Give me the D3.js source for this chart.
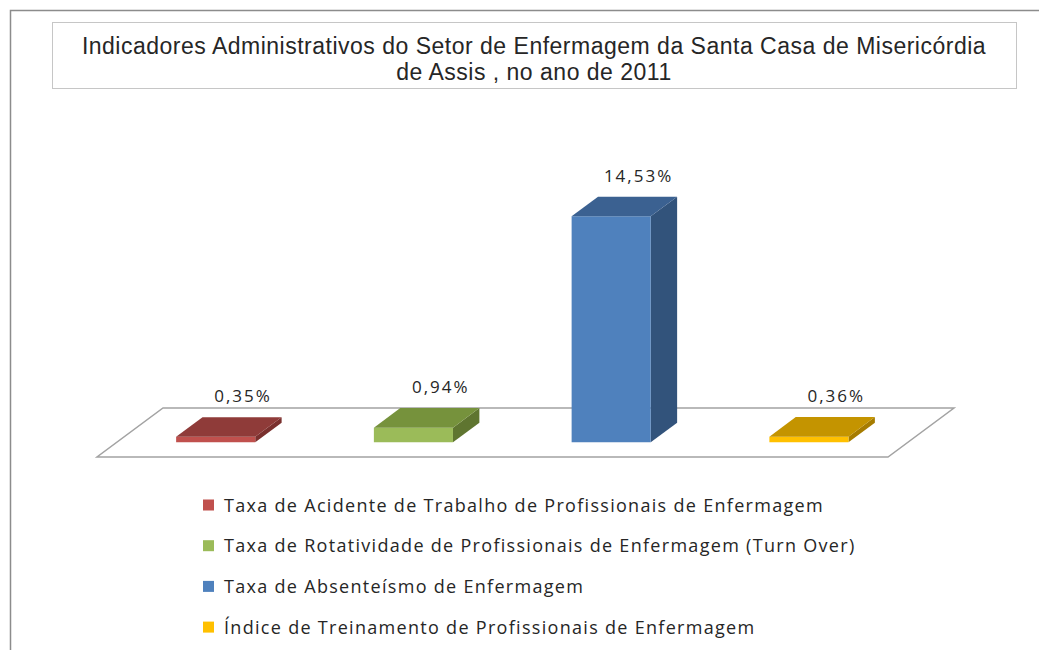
<!DOCTYPE html>
<html>
<head>
<meta charset="utf-8">
<script src="https://cdn.jsdelivr.net/npm/d3@7"></script>
<style>
  body { margin: 0; background: #fff; }
  svg { display: block; }
</style>
</head>
<body>
<div id="chart"></div>
<script>
// data
var categories = [
  "Taxa de Acidente de Trabalho de Profissionais de Enfermagem",
  "Taxa de Rotatividade de Profissionais de Enfermagem (Turn Over)",
  "Taxa de Absenteísmo de Enfermagem",
  "Índice de Treinamento de Profissionais de Enfermagem"
];
var values = [0.35, 0.94, 14.53, 0.36];
var valueLabels = ["0,35%", "0,94%", "14,53%", "0,36%"];
var titleLines = [
  "Indicadores Administrativos do Setor de Enfermagem da Santa Casa de Misericórdia",
  "de Assis , no ano de 2011"
];

// colors: front, top, side
var frontColors = ["#c0504d", "#9bbb59", "#4f81bd", "#ffc000"];
var topColors   = ["#8f3b39", "#76923c", "#3b6191", "#c49400"];
var sideColors  = ["#7a302e", "#5f7530", "#32537b", "#a67c00"];

var W = 1039, H = 650;

var svg = d3.select("#chart")
  .append("svg")
    .attr("width", W)
    .attr("height", H);

// outer chart frame (only top and left visible)
svg.append("path")
  .attr("d", "M10.5,650 L10.5,10.5 L1039,10.5")
  .attr("fill", "none")
  .attr("stroke", "#8c8c8c")
  .attr("stroke-width", 1.5);

// title box
svg.append("rect")
  .attr("x", 52.5).attr("y", 22.5)
  .attr("width", 964).attr("height", 66)
  .attr("fill", "#fff")
  .attr("stroke", "#c6c6c6");

svg.selectAll("text.title")
  .data(titleLines)
  .enter().append("text")
    .attr("class", "title")
    .attr("x", 534)
    .attr("y", function(d, i) { return 54 + i * 26; })
    .attr("text-anchor", "middle")
    .attr("font-family", "Liberation Sans, Arial, sans-serif")
    .attr("font-size", 23)
    .attr("letter-spacing", 0.5)
    .attr("fill", "#262626")
    .text(function(d) { return d; });

// plot geometry: floor front edge and depth vector
var floorY = 457;
var depth = {dx: 66, dy: -49};

var x = d3.scaleBand()
  .domain(categories)
  .range([97, 888]);

var y = d3.scaleLinear()
  .domain([0, d3.max(values)])
  .range([0, 226]);

function proj(px, h, f) {
  return [px + f * depth.dx, floorY + f * depth.dy - h];
}

// floor
var x0 = x.range()[0], x1 = x.range()[1];
svg.append("path")
  .attr("d", d3.line()([proj(x0, 0, 0), proj(x1, 0, 0), proj(x1, 0, 1), proj(x0, 0, 1)]) + "Z")
  .attr("fill", "#fff")
  .attr("stroke", "#a3a3a3")
  .attr("stroke-width", 1.5);

var barW = x.bandwidth() * 0.4;
var f0 = 0.3, f1 = 0.7;

var bars = svg.selectAll("g.bar")
  .data(values)
  .enter().append("g")
    .attr("class", "bar");

bars.each(function(v, i) {
  var g = d3.select(this);
  var cx = x(categories[i]) + x.bandwidth() / 2;
  var l = cx - barW / 2, r = cx + barW / 2, h = y(v);
  var line = d3.line();

  // side face
  g.append("path")
    .attr("d", line([proj(r, 0, f0), proj(r, 0, f1), proj(r, h, f1), proj(r, h, f0)]) + "Z")
    .attr("fill", sideColors[i]);
  // front face
  g.append("path")
    .attr("d", line([proj(l, 0, f0), proj(r, 0, f0), proj(r, h, f0), proj(l, h, f0)]) + "Z")
    .attr("fill", frontColors[i]);
  // top face
  g.append("path")
    .attr("d", line([proj(l, h, f0), proj(r, h, f0), proj(r, h, f1), proj(l, h, f1)]) + "Z")
    .attr("fill", topColors[i]);

  // value label centred over the back top edge
  var p = proj(cx, h, f1);
  g.append("text")
    .attr("x", p[0] + 1)
    .attr("y", p[1] - 15)
    .attr("text-anchor", "middle")
    .attr("font-family", "Open Sans, sans-serif")
    .attr("font-size", 17)
    .attr("letter-spacing", 2)
    .attr("fill", "#262626")
    .text(valueLabels[i]);
});

// legend
var legend = svg.selectAll("g.legend")
  .data(categories)
  .enter().append("g")
    .attr("class", "legend")
    .attr("transform", function(d, i) { return "translate(203," + (505 + i * 40.7) + ")"; });

legend.append("rect")
  .attr("x", 0).attr("y", -5.5)
  .attr("width", 11).attr("height", 11)
  .attr("fill", function(d, i) { return frontColors[i]; });

legend.append("text")
  .attr("x", 21)
  .attr("y", 6.5)
  .attr("font-family", "Open Sans, sans-serif")
  .attr("font-size", 18)
  .attr("letter-spacing", 1.3)
  .attr("fill", "#262626")
  .text(function(d) { return d; });
</script>
</body>
</html>
